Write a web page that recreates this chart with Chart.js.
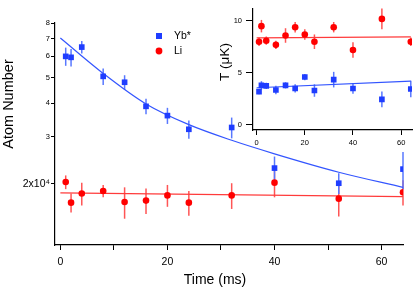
<!DOCTYPE html>
<html>
<head>
<meta charset="utf-8">
<script src="https://cdn.jsdelivr.net/npm/chart.js@4/dist/chart.umd.min.js"></script>
<style>
html, body { margin: 0; padding: 0; background: #fff; }
#wrap { position: relative; width: 416px; height: 290px; }
#main { position: absolute; left: 0; top: 0; }
#inset { position: absolute; left: 200px; top: 0; }
</style>
</head>
<body>
<div id="wrap">
  <canvas id="main" width="416" height="290"></canvas>
  <canvas id="inset" width="216" height="150"></canvas>
</div>
<script>
// time of each shot (ms)
const times = [1, 2, 4, 8, 12, 16, 20, 24, 32, 40, 52, 64];

// atom number, in units of 10^4
const ybAtoms    = [6.0, 5.95, 6.5, 5.05, 4.8, 3.9, 3.6, 3.2, 3.25, 2.29, 2.01, 2.27];
const ybAtomsErr = [0.47, 0.45, 0.35, 0.36, 0.3, 0.26, 0.25, 0.25, 0.29, 0.24, 0.18, 0.36];
const liAtoms    = [2.03, 1.70, 1.84, 1.88, 1.71, 1.73, 1.81, 1.70, 1.81, 2.02, 1.76, 1.86];
const liAtomsErr = [0.12, 0.14, 0.18, 0.1, 0.23, 0.19, 0.17, 0.18, 0.2, 0.24, 0.25, 0.2];

// fit curves
const ybFitT = [0, 8, 16, 24, 32, 40, 52, 64];
const ybFitN = [7.03, 5.18, 3.98, 3.33, 2.91, 2.59, 2.21, 1.94];
const liFitT = [0, 64];
const liFitN = [1.85, 1.79];

// inset: temperature (uK)
const ybTemp    = [3.2, 3.8, 3.75, 3.35, 3.8, 3.5, 4.6, 3.3, 4.35, 3.5, 2.45, 3.45];
const ybTempErr = [0.25, 0.4, 0.3, 0.4, 0.3, 0.4, 0.3, 0.6, 0.75, 0.5, 0.75, 0.8];
const liTemp    = [8.0, 9.5, 8.1, 7.7, 8.6, 9.4, 8.7, 8.0, 9.4, 7.2, 10.2, 8.0];
const liTempErr = [0.4, 0.6, 0.4, 0.4, 0.7, 0.5, 0.5, 0.7, 0.5, 0.75, 1.0, 0.4];
const tempFitT  = [0, 64];
const ybTempFit = [3.57, 4.2];
const liTempFit = [8.38, 8.47];

// tick labels
const mainXTicks = [0, 10, 20, 30, 40, 50, 60];
const mainYTicks = [2, 3, 4, 5, 6, 7, 8];
const insetXTicks = [0, 20, 40, 60];
const insetYTicks = [0, 5, 10];

const FONT = "'Liberation Sans', Arial, sans-serif";
const BLUE = '#1f3dff', BLUE_ERR = '#5878ff', BLUE_FIT = '#3355ff';
const RED = '#ff0000', RED_ERR = '#ff5555', RED_FIT = '#ff3b3b';

const pts = (xs, ys) => xs.map((x, i) => ({ x: x, y: ys[i] }));

// vertical error bars, drawn under the markers
const errorBars = {
    id: 'errorBars',
    beforeDatasetsDraw(chart) {
        const ctx = chart.ctx, ys = chart.scales.y;
        chart.data.datasets.forEach((ds, i) => {
            if (!ds.errs) return;
            const meta = chart.getDatasetMeta(i);
            ctx.save();
            ctx.strokeStyle = ds.errColor;
            ctx.lineWidth = 1.5;
            meta.data.forEach((el, j) => {
                const v = ds.data[j].y, e = ds.errs[j];
                ctx.beginPath();
                ctx.moveTo(el.x, ys.getPixelForValue(v + e));
                ctx.lineTo(el.x, ys.getPixelForValue(v - e));
                ctx.stroke();
            });
            ctx.restore();
        });
    }
};

// free text (axis titles) and hand legend
const extras = {
    id: 'extras',
    afterDraw(chart, args, opts) {
        const ctx = chart.ctx;
        (opts.texts || []).forEach(t => {
            ctx.save();
            ctx.translate(t.x, t.y);
            if (t.rot) ctx.rotate(t.rot);
            ctx.font = t.size + 'px ' + FONT;
            ctx.fillStyle = '#000';
            ctx.textAlign = t.align || 'center';
            ctx.textBaseline = 'middle';
            ctx.fillText(t.text, 0, 0);
            ctx.restore();
        });
        (opts.legend || []).forEach(l => {
            ctx.save();
            ctx.fillStyle = l.color;
            ctx.beginPath();
            if (l.shape === 'rect') ctx.rect(l.x - 3, l.y - 3, 6, 6);
            else ctx.arc(l.x, l.y, 3.4, 0, Math.PI * 2);
            ctx.fill();
            ctx.fillStyle = '#000';
            ctx.font = '10.5px ' + FONT;
            ctx.textAlign = 'left';
            ctx.textBaseline = 'middle';
            ctx.fillText(l.text, l.x + 15, l.y + 0.5);
            ctx.restore();
        });
    }
};

function axis(extra) {
    return Object.assign({
        grid: { drawOnChartArea: false, tickLength: 4, tickColor: '#000', tickWidth: 1 },
        border: { color: '#000', width: 1.2 },
        title: { display: false }
    }, extra);
}

const mainChart = new Chart(document.getElementById('main'), {
    type: 'scatter',
    data: {
        datasets: [
            { data: pts(times, liAtoms), errs: liAtomsErr, errColor: RED_ERR, pointStyle: 'circle', pointRadius: 3.3,
              backgroundColor: RED, borderWidth: 0, showLine: false },
            { data: pts(times, ybAtoms), errs: ybAtomsErr, errColor: BLUE_ERR, pointStyle: 'rect', pointRadius: 4,
              backgroundColor: BLUE, borderWidth: 0, showLine: false },
            { data: pts(liFitT, liFitN), showLine: true, pointRadius: 0, borderColor: RED_FIT, borderWidth: 1.2 },
            { data: pts(ybFitT, ybFitN), showLine: true, pointRadius: 0, borderColor: BLUE_FIT, borderWidth: 1.2,
              cubicInterpolationMode: 'monotone' }
        ]
    },
    options: {
        responsive: false,
        animation: false,
        layout: { padding: { top: 23, right: 13, left: 0, bottom: 0 } },
        plugins: {
            legend: { display: false },
            tooltip: { enabled: false },
            extras: {
                texts: [
                    { text: 'Atom Number', x: 9, y: 104, rot: -Math.PI / 2, size: 14.5 },
                    { text: 'Time (ms)', x: 215, y: 280, size: 14 }
                ],
                legend: [
                    { shape: 'rect', color: BLUE, x: 159, y: 36, text: 'Yb*' },
                    { shape: 'circle', color: RED, x: 159, y: 51, text: 'Li' }
                ]
            }
        },
        scales: {
            x: axis({
                type: 'linear', min: -1, max: 64,
                afterBuildTicks: s => { s.ticks = mainXTicks.map(v => ({ value: v })); },
                afterFit: s => { s.height = 45; },
                grid: { drawOnChartArea: false, tickLength: 5, tickColor: '#000', tickWidth: 1 },
                ticks: { color: '#000', font: { family: FONT, size: 10.5 }, padding: 6, maxRotation: 0, autoSkip: false,
                         callback: v => (v % 20 === 0 ? String(v) : '') }
            }),
            y: axis({
                type: 'logarithmic', min: 1.18, max: 8,
                afterBuildTicks: s => { s.ticks = mainYTicks.map(v => ({ value: v })); },
                afterFit: s => { s.width = 55; },
                ticks: { color: '#000', padding: 1, autoSkip: false,
                         font: c => ({ family: FONT, size: (c.tick && c.tick.value === 2) ? 10.5 : 7.5 }),
                         callback: v => (v === 2 ? '2x10\u2074' : String(v)) }
            })
        }
    },
    plugins: [errorBars, extras]
});

const insetChart = new Chart(document.getElementById('inset'), {
    type: 'scatter',
    data: {
        datasets: [
            { data: pts(times, liTemp), errs: liTempErr, errColor: RED_ERR, pointStyle: 'circle', pointRadius: 3.3,
              backgroundColor: RED, borderWidth: 0, showLine: false },
            { data: pts(times, ybTemp), errs: ybTempErr, errColor: BLUE_ERR, pointStyle: 'rect', pointRadius: 4,
              backgroundColor: BLUE, borderWidth: 0, showLine: false },
            { data: pts(tempFitT, liTempFit), showLine: true, pointRadius: 0, borderColor: RED_FIT, borderWidth: 1.2 },
            { data: pts(tempFitT, ybTempFit), showLine: true, pointRadius: 0, borderColor: BLUE_FIT, borderWidth: 1.2 }
        ]
    },
    options: {
        responsive: false,
        animation: false,
        layout: { padding: { top: 0, right: 3, left: 0, bottom: 0 } },
        plugins: {
            legend: { display: false },
            tooltip: { enabled: false },
            extras: {
                texts: [ { text: 'T (\u03bcK)', x: 25, y: 62, rot: -Math.PI / 2, size: 13.5 } ]
            }
        },
        scales: {
            x: axis({
                type: 'linear', min: -1.5, max: 64.5,
                afterBuildTicks: s => { s.ticks = insetXTicks.map(v => ({ value: v })); },
                afterFit: s => { s.height = 20; },
                grid: { drawOnChartArea: false, tickLength: 5, tickColor: '#000', tickWidth: 1 },
                ticks: { color: '#000', font: { family: FONT, size: 7.5 }, padding: 3, maxRotation: 0, autoSkip: false }
            }),
            y: axis({
                type: 'linear', min: -0.5, max: 11.2,
                afterBuildTicks: s => { s.ticks = insetYTicks.map(v => ({ value: v })); },
                afterFit: s => { s.width = 53; },
                grid: { drawOnChartArea: false, tickLength: 7, tickColor: '#000', tickWidth: 1 },
                ticks: { color: '#000', font: { family: FONT, size: 7.5 }, padding: 4, autoSkip: false }
            })
        }
    },
    plugins: [errorBars, extras]
});
</script>
</body>
</html>
